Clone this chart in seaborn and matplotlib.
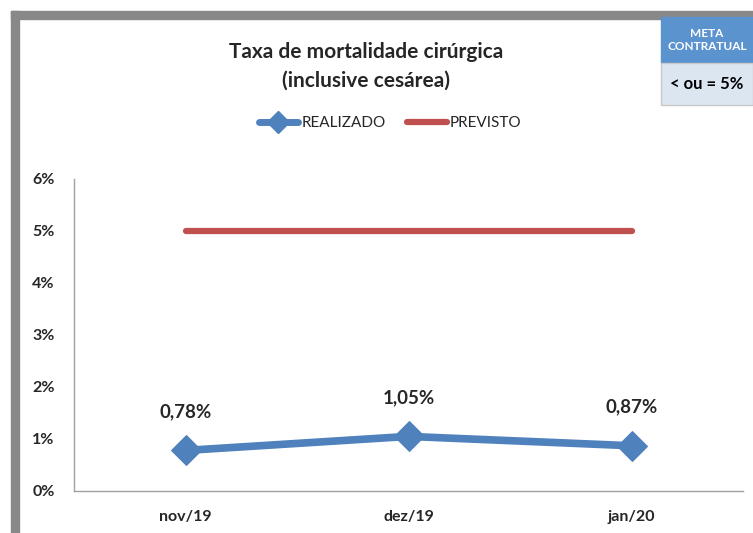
import matplotlib
matplotlib.use("Agg")
import matplotlib.pyplot as plt
from matplotlib.patches import Rectangle
from matplotlib.lines import Line2D
import pandas as pd
import seaborn as sns

# dados do grafico
meses = ["nov/19", "dez/19", "jan/20"]
realizado = [0.78, 1.05, 0.87]
previsto = [5.0, 5.0, 5.0]
yticks = [0, 1, 2, 3, 4, 5, 6]

df = pd.DataFrame({"mes": meses, "realizado": realizado, "previsto": previsto})
df["pos"] = range(len(df))

sns.set_style("white")
plt.rcParams["font.family"] = ["Lato", "DejaVu Sans"]

azul = "#4F81BD"
vermelho = "#C0504D"

fig = plt.figure(figsize=(7.53, 5.33), dpi=100)
W, H = 753, 533

# moldura cinza
fig.patches.append(Rectangle((11 / W, 1 - 19 / H), 1, 8 / H, transform=fig.transFigure,
                             color="#888888", zorder=0))
fig.patches.append(Rectangle((11 / W, 0), 8 / W, 1 - 11 / H, transform=fig.transFigure,
                             color="#888888", zorder=0))

ax = fig.add_axes([74 / W, 42 / H, 669 / W, 312 / H])

sns.lineplot(data=df, x="pos", y="previsto", ax=ax, color=vermelho, linewidth=4.5,
             solid_capstyle="round")
sns.lineplot(data=df, x="pos", y="realizado", ax=ax, color=azul, linewidth=5.5,
             marker="D", markersize=15, markeredgecolor=azul)

for i, v in enumerate(realizado):
    ax.annotate(f"{v:.2f}%".replace(".", ","), (i, v), xytext=(0, 22),
                textcoords="offset points", ha="center", va="bottom",
                fontsize=13.5, fontweight="bold")

ax.set_xlim(-0.5, 2.5)
ax.set_ylim(0, 6)
ax.set_xticks(df["pos"])
ax.set_xticklabels(meses, fontsize=11.5, fontweight="bold")
ax.set_yticks(yticks)
ax.set_yticklabels([f"{t}%" for t in yticks], fontsize=11.5, fontweight="bold")
ax.set_xlabel("")
ax.set_ylabel("")
ax.tick_params(axis="x", length=0, pad=14)
ax.tick_params(axis="y", length=0, pad=14)
for s in ["top", "right"]:
    ax.spines[s].set_visible(False)
for s in ["left", "bottom"]:
    ax.spines[s].set_color("#A0A0A0")
    ax.spines[s].set_linewidth(1)

fig.text(366 / W, 1 - 66 / H, "Taxa de mortalidade cirúrgica\n(inclusive cesárea)",
         ha="center", va="center", fontsize=15, fontweight="bold", linespacing=1.55)

handles = [Line2D([], [], color=azul, linewidth=5, marker="D", markersize=11),
           Line2D([], [], color=vermelho, linewidth=4.5, solid_capstyle="round")]
fig.legend(handles, ["REALIZADO", "PREVISTO"], loc="center", bbox_to_anchor=(390 / W, 1 - 123 / H),
           ncol=2, frameon=False, fontsize=11, handlelength=2.6, handletextpad=0.2,
           columnspacing=1.4)

# caixa meta contratual
fig.patches.append(Rectangle((661 / W, 1 - 63 / H), 92 / W, 46 / H, transform=fig.transFigure,
                             color="#5B93CF", zorder=1))
fig.patches.append(Rectangle((661 / W, 1 - 105 / H), 92 / W, 42 / H, transform=fig.transFigure,
                             facecolor="#DCE6F1", edgecolor="#C8C8C8", linewidth=1, zorder=1))
fig.text(707 / W, 1 - 40 / H, "META\nCONTRATUAL", ha="center", va="center", color="white",
         fontsize=8.5, fontweight="bold", linespacing=1.2)
fig.text(707 / W, 1 - 84 / H, "< ou = 5%", ha="center", va="center", color="black",
         fontsize=12, fontweight="bold")

fig.savefig("out.png", dpi=100)
